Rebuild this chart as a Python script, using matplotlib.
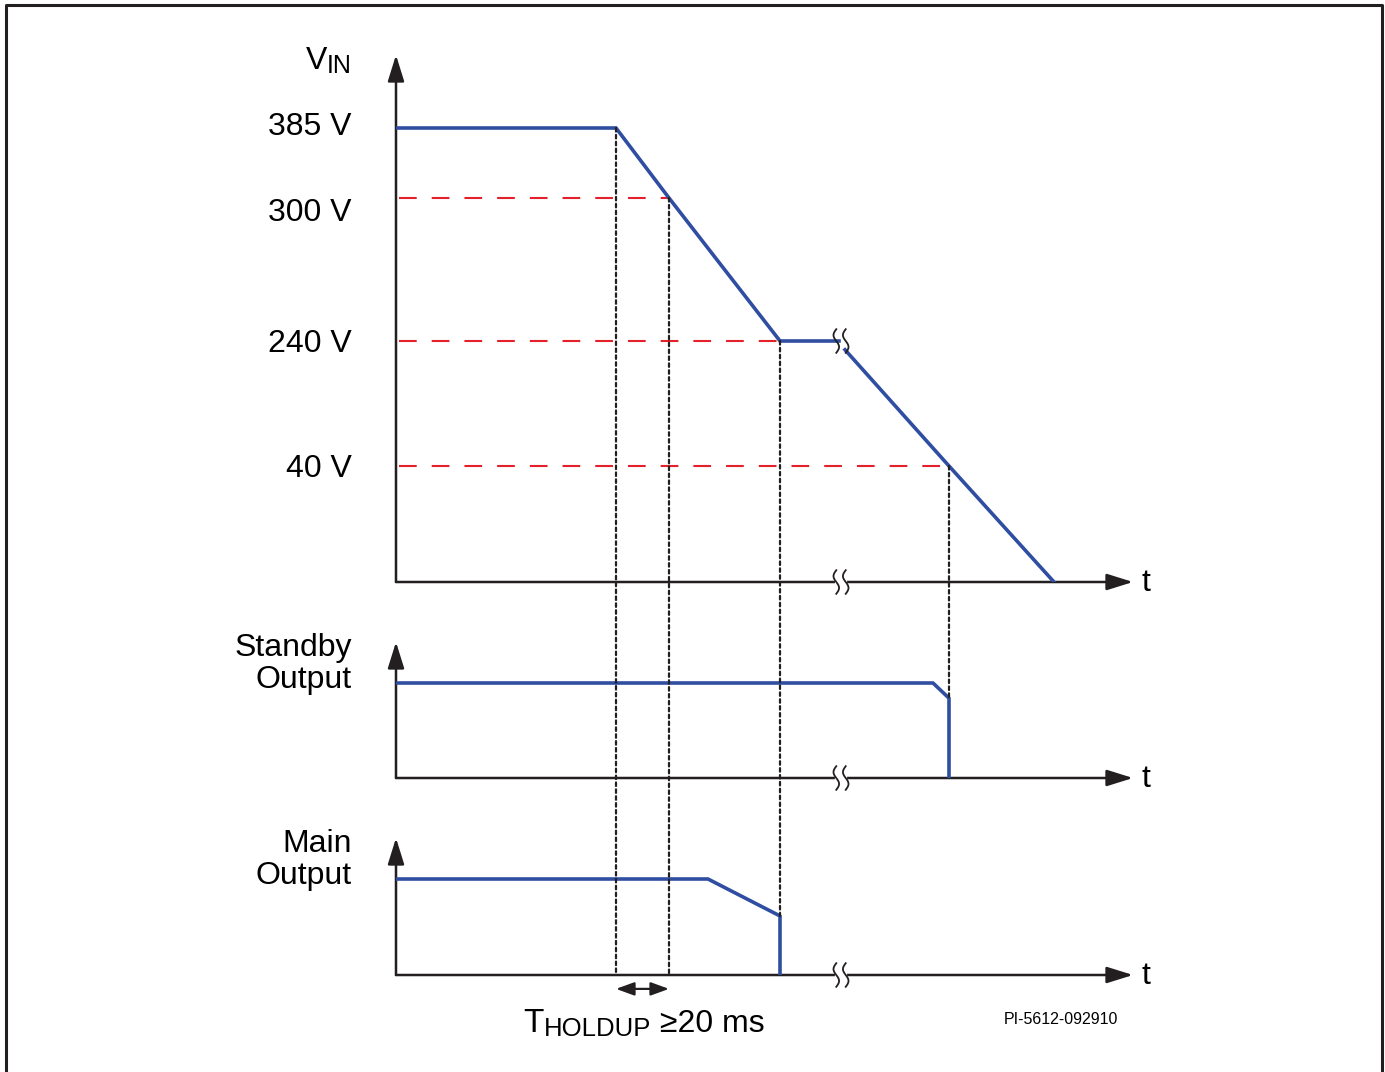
import numpy as np
import matplotlib
matplotlib.use('Agg')
import matplotlib.pyplot as plt
import matplotlib.transforms as transforms
from matplotlib.patches import ConnectionPatch
from matplotlib.lines import Line2D

plt.rcParams['font.family'] = ['Liberation Sans', 'DejaVu Sans']

# eixo do tempo esquematico (unidades arbitrarias)
t_queda = 220     # VIN comeca a cair
t_300 = 273       # VIN cruza 300 V
t_240 = 384       # VIN chega a 240 V
t_quebra = 445    # quebra do eixo
t_40 = 553        # VIN cruza 40 V
t_fim = 737

# VIN (V)
vin_t1 = [0, t_queda, t_300, t_240, 443]
vin_v1 = [385, 385, 300, 240, 240]
vin_t2 = [449, t_40, 658]
vin_v2 = [226, 40, 0]

# niveis marcados no eixo de VIN
niveis_v = [385, 300, 240, 40]
niveis_txt = ['385 V', '300 V', '240 V', '40 V']
niveis_dy = [1, -11, -2, -2]   # deslocamento do rotulo (pts)
limiares_v = [300, 240, 40]
limiares_t = [t_300, t_240, t_40]

# saidas (normalizadas)
sb_t = [0, 537, t_40, t_40]
sb_v = [1, 1, 0.84, 0]
mo_t = [0, 312, t_240, t_240]
mo_v = [1, 1, 0.615, 0]

# escala esquematica do eixo de tensao (nao linear no desenho)
escala_v = [0, 40, 240, 300, 385, 500]
escala_p = [0, 116, 241, 384, 454, 548.7]

def fwd(v):
    return np.interp(v, escala_v, escala_p)

def inv(p):
    return np.interp(p, escala_p, escala_v)

AZUL = '#2f4ea2'
VERM = '#e4202a'
PRETO = '#231f20'
FS = 23
W, H = 1385, 1072

fig = plt.figure(figsize=(W / 100, H / 100), dpi=100)

def px_ax(x0, y0, x1, y1):
    return fig.add_axes([x0 / W, 1 - y0 / H, (x1 - x0) / W, (y0 - y1) / H])

ax_v = px_ax(396, 582, 1133, 55)
ax_s = px_ax(396, 778, 1133, 642)
ax_m = px_ax(396, 975, 1133, 838)

ax_v.set_yscale('function', functions=(fwd, inv))
ax_v.set_ylim(0, inv(527))
ax_s.set_ylim(0, 136 / 95)
ax_m.set_ylim(0, 137 / 96)

for ax in (ax_v, ax_s, ax_m):
    ax.set_xlim(0, t_fim)
    ax.set_facecolor('none')
    for s in ax.spines.values():
        s.set_visible(False)
    ax.set_xticks([])
    ax.set_yticks([])
    # eixos com setas
    seta = dict(arrowstyle='-|>,head_length=0.8,head_width=0.25', lw=1.8,
                color=PRETO, shrinkA=0, shrinkB=0, mutation_scale=20)
    ax.annotate('', xy=(1, 0), xytext=(0, 0), xycoords='axes fraction', arrowprops=seta)
    ax.annotate('', xy=(0, 1), xytext=(0, 0), xycoords='axes fraction', arrowprops=seta)
    ax.annotate('t', xy=(1, 0), xycoords='axes fraction', xytext=(6, -1),
                textcoords='offset points', fontsize=FS, ha='left', va='center')


def quebra(ax, x, y, apagar=True):
    """Desenha o simbolo de quebra (dois tis verticais) em (x, y)."""
    tr = transforms.Affine2D().scale(fig.dpi / 72) + transforms.ScaledTranslation(x, y, ax.transData)
    if apagar:
        ax.plot([-3, 3], [0, 0], color='white', lw=3, transform=tr, clip_on=False, zorder=4)
    yy = np.linspace(-8.5, 8.5, 60)
    xx = -2.0 * np.sin(np.pi * yy / 8.5)
    for dx in (-3.4, 3.4):
        ax.plot(xx + dx, yy, color=PRETO, lw=1.3, transform=tr, clip_on=False, zorder=5)


def texto_sub(x, y, partes, ha='left'):
    """Escreve partes (texto, tamanho, dy em px) lado a lado, a partir de (x, y) em px."""
    fig.canvas.draw()
    r = fig.canvas.get_renderer()
    objs, larg = [], 0
    for s, fs, dy in partes:
        t = fig.text(0, 0, s, fontsize=fs, va='baseline', ha='left')
        w = t.get_window_extent(r).width
        objs.append((t, dy, w))
        larg += w
    x0 = x - larg if ha == 'right' else (x - larg / 2 if ha == 'center' else x)
    for t, dy, w in objs:
        t.set_position((x0 / W, 1 - (y + dy) / H))
        x0 += w


# painel VIN
ax_v.plot(vin_t1, vin_v1, color=AZUL, lw=2.6, solid_joinstyle='miter', zorder=3)
ax_v.plot(vin_t2, vin_v2, color=AZUL, lw=2.6, zorder=3)
for v, t in zip(limiares_v, limiares_t):
    ax_v.plot([3, t], [v, v], color=VERM, lw=1.5, linestyle=(0, (8.5, 7.2)), zorder=2)
for v, txt, dy in zip(niveis_v, niveis_txt, niveis_dy):
    ax_v.annotate(txt, xy=(0, v), xycoords=('axes fraction', 'data'),
                  xytext=(-32, dy), textcoords='offset points',
                  fontsize=FS, ha='right', va='center')
for ax in (ax_v, ax_s, ax_m):
    quebra(ax, t_quebra, 0)
quebra(ax_v, t_quebra, 240, apagar=False)

# saidas
ax_s.plot(sb_t, sb_v, color=AZUL, lw=2.6, zorder=3)
ax_m.plot(mo_t, mo_v, color=AZUL, lw=2.6, zorder=3)
ax_s.text(-44 / 737, 1 - 22 / 136, 'Standby\nOutput', transform=ax_s.transAxes,
          fontsize=FS, ha='right', va='center', multialignment='right', linespacing=1.08)
ax_m.text(-44 / 737, 1 - 22 / 137, 'Main\nOutput', transform=ax_m.transAxes,
          fontsize=FS, ha='right', va='center', multialignment='right', linespacing=1.08)

# linhas pontilhadas verticais
pont = dict(color=PRETO, lw=1.6, linestyle=(0, (1.6, 1.5)), zorder=2)
verticais = [(t_queda, 385, ax_m, 0), (t_300, 300, ax_m, 0),
             (t_240, 240, ax_m, mo_v[2]), (t_40, 40, ax_s, sb_v[2])]
for t, v, ax_b, yb in verticais:
    cp = ConnectionPatch(xyA=(t, v), coordsA=ax_v.transData,
                         xyB=(t, yb), coordsB=ax_b.transData, **pont)
    fig.add_artist(cp)

# tempo de hold-up
ax_m.annotate('', xy=(t_300, -10), xytext=(t_queda, -10),
              xycoords=('data', 'axes points'),
              arrowprops=dict(arrowstyle='<|-|>,head_length=0.55,head_width=0.2',
                              lw=1.6, color=PRETO, shrinkA=0, shrinkB=0, mutation_scale=20))

texto_sub(352, 69, [('V', FS, 0), ('IN', 18, 4)], ha='right')
texto_sub(644, 1032, [('T', 24, 0), ('HOLDUP', 18.5, 4), (' ≥20 ms', FS, 0)], ha='center')

fig.text(1118 / W, 1 - 1020 / H, 'PI-5612-092910', fontsize=11.5, ha='right', va='center')

# moldura
fig.add_artist(Line2D([6 / W, 6 / W, 1382 / W, 1382 / W], [-0.01, 1 - 5 / H, 1 - 5 / H, -0.01],
                      transform=fig.transFigure, color=PRETO, lw=2.2))

fig.savefig('out.png', dpi=100)
